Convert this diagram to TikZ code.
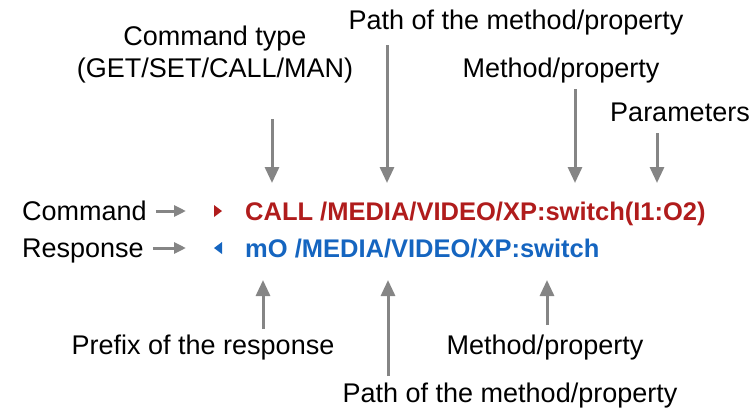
\documentclass[tikz,border=0pt]{standalone}
\usepackage{fontspec}
\setmainfont{Liberation Sans}
\usetikzlibrary{arrows.meta,positioning}
\definecolor{cmdred}{HTML}{B01C1C}
\definecolor{rspblue}{HTML}{1565C0}
\definecolor{pointgray}{HTML}{858585}

\begin{document}
\begin{tikzpicture}[x=1pt,y=-1pt,
  label/.style={font=\fontsize{27}{32}\selectfont,inner sep=0pt,anchor=base,align=center},
  line/.style={font=\fontsize{25.5}{32}\selectfont\bfseries,inner sep=0pt,anchor=base west},
  pointer/.style={-{Triangle[length=16pt,width=14pt]},line width=3pt,pointgray},
  tag/.style={-{Triangle[length=12pt,width=11pt]},line width=3pt,pointgray}
]
  \useasboundingbox (0,0) rectangle (753,410);

  % top labels
  \node[label] (pathT) at (516,29) {Path of the method/property};
  \node[label] (ctype) at (215,77) {Command type\\(GET/SET/CALL/MAN)};
  \node[label] (methT) at (561,77) {Method/property};
  \node[label] (parT) at (680,121) {Parameters};

  \coordinate (ctypeA) at (272,119);  \coordinate (ctypeB) at (272,183);
  \coordinate (pathA) at (387,45);    \coordinate (pathB) at (387,183);
  \coordinate (methA) at (575,89);    \coordinate (methB) at (575,183);
  \coordinate (parA) at (657,133);    \coordinate (parB) at (657,183);
  \draw[pointer] (ctypeA) -- (ctypeB);
  \draw[pointer] (pathA) -- (pathB);
  \draw[pointer] (methA) -- (methB);
  \draw[pointer] (parA) -- (parB);

  % command and response lines
  \node[label,anchor=base west] (cmd) at (22,220) {Command};
  \node[label,anchor=base west] (rsp) at (22,257) {Response};
  \coordinate (cmdtip) at (186,211);
  \coordinate (rsptip) at (186,248);
  \draw[tag] ([xshift=9pt]cmd.east |- cmdtip) -- (cmdtip);
  \draw[tag] ([xshift=9pt]rsp.east |- rsptip) -- (rsptip);

  \fill[cmdred] (214,205) -- (222,211) -- (214,217) -- cycle;
  \fill[rspblue] (222,242) -- (214,248) -- (222,254) -- cycle;

  \node[line,text=cmdred] (cmdline) at (245,220) {CALL /MEDIA/VIDEO/XP:switch(I1:O2)};
  \node[line,text=rspblue] (rspline) at (245,257) {mO /MEDIA/VIDEO/XP:switch};

  % bottom labels
  \coordinate (preA) at (263,329);   \coordinate (preB) at (263,280);
  \coordinate (pathC) at (388,376);  \coordinate (pathD) at (388,280);
  \coordinate (methC) at (547,325);  \coordinate (methD) at (547,280);
  \draw[pointer] (preA) -- (preB);
  \draw[pointer] (pathC) -- (pathD);
  \draw[pointer] (methC) -- (methD);

  \node[label] (prefB) at (203,354) {Prefix of the response};
  \node[label] (methBot) at (545,354) {Method/property};
  \node[label] (pathBot) at (510,402) {Path of the method/property};
\end{tikzpicture}
\end{document}
